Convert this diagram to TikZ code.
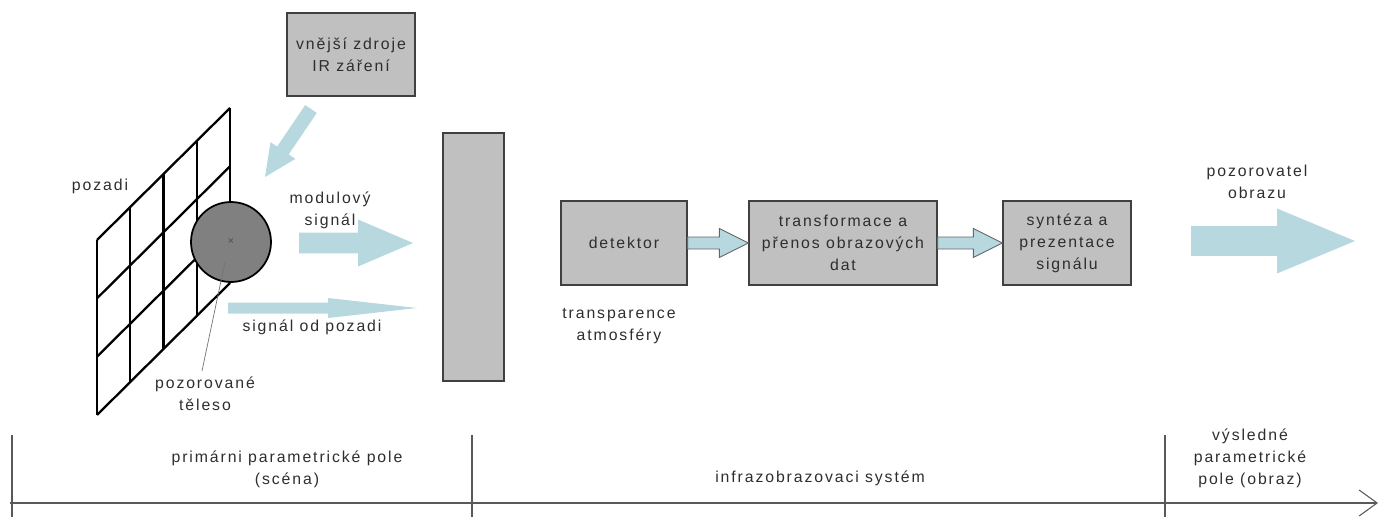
\documentclass[tikz,border=0pt]{standalone}
\usepackage{fontspec}
\setmainfont{Liberation Sans}[LetterSpace=12]
\usetikzlibrary{arrows.meta,calc}

\definecolor{boxgray}{HTML}{C0C0C0}
\definecolor{bodygray}{HTML}{808080}
\definecolor{arrowblue}{HTML}{B8D8E0}
\definecolor{textgray}{HTML}{2E2E2E}

% wide flat arrow: tail, tip, half body, half head, head length
\newcommand{\fatarrow}[6][]{%
  \coordinate (fa hb) at ($(#3)!#6!(#2)$);
  \path[#1] ($(#2)!#4!90:(#3)$) -- ($(fa hb)!#4!-90:(#2)$)
    -- ($(fa hb)!#5!-90:(#2)$) -- (#3) -- ($(fa hb)!#5!90:(#2)$)
    -- ($(fa hb)!#4!90:(#2)$) -- ($(#2)!#4!-90:(#3)$) -- cycle;}

\begin{document}
\begin{tikzpicture}[x=0.02cm, y=-0.02cm,
  every node/.style={font=\fontsize{9}{12.5}\selectfont, text=textgray, align=center},
  box/.style={draw=black!75, fill=boxgray, line width=0.8pt, inner sep=0pt},
  flow/.style={fill=arrowblue},
  flowline/.style={fill=arrowblue, draw=black!60, line width=0.5pt},
  axis/.style={draw=black!65, line width=0.6pt}]
\useasboundingbox (0,0) rectangle (1379,517);

% the scene
\foreach \i in {0,...,4}
  \draw[line width=1.3pt] (97+33.25*\i, 240-33*\i) -- (97+33.25*\i, 415-33*\i);
\foreach \j in {0,...,3}
  \draw[line width=1.3pt] (97, 240+58.33*\j) -- (230, 108+58.33*\j);

\node[circle, draw=black, line width=1pt, fill=bodygray, minimum size=1.6cm,
  inner sep=0pt] (teleso) at (231,242) {};
\node[font=\fontsize{6}{6}\selectfont, text=black!70] at (teleso) {×};
\coordinate (teleso pin) at (225,262);

\node (pozadi) at (100,186) {pozadi};
\node (teleso label) at (205,394) {pozorované\\těleso};
\draw[black!55, line width=0.4pt] (teleso pin) -- ($(teleso label.north)+(-3,0)$);

\node[box, minimum width=2.56cm, minimum height=1.66cm] (zdroje) at (351,54.5)
  {vnější zdroje\\IR záření};

\coordinate (ir tail) at (311,109);
\coordinate (ir tip) at (265,177);
\fatarrow[flow]{ir tail}{ir tip}{0.14cm}{0.3cm}{0.64cm}

\node (mod label) at (330,210) {modulový\\signál};
\coordinate (mod tail) at (299,243);
\coordinate (mod tip) at (413,243);
\fatarrow[flow]{mod tail}{mod tip}{0.21cm}{0.47cm}{1.1cm}

\node (bg label) at (312,327) {signál od pozadi};
\coordinate (bg tail) at (228,308);
\coordinate (bg tip) at (417,308);
\fatarrow[flow]{bg tail}{bg tip}{0.11cm}{0.2cm}{1.78cm}

% the imaging system
\node[box, minimum width=1.22cm, minimum height=4.96cm] (atmosfera) at (473.5,257) {};
\node (atmosfera label) at (619,326) {transparence\\atmosféry};

\node[box, minimum width=2.52cm, minimum height=1.68cm] (detektor) at (624,243) {detektor};
\node[box, minimum width=3.76cm, minimum height=1.68cm] (prenos) at (843,243)
  {transformace a\\přenos obrazových\\dat};
\node[box, minimum width=2.56cm, minimum height=1.68cm] (synteza) at (1067,243)
  {syntéza a\\prezentace\\signálu};

\fatarrow[flowline]{detektor.east}{prenos.west}{0.12cm}{0.29cm}{0.58cm}
\fatarrow[flowline]{prenos.east}{synteza.west}{0.12cm}{0.29cm}{0.58cm}

% the observer
\node (pozorovatel) at (1257,182) {pozorovatel\\obrazu};
\coordinate (obs tail) at (1191,241);
\coordinate (obs tip) at (1355,241);
\fatarrow[flow]{obs tail}{obs tip}{0.3cm}{0.65cm}{1.56cm}

% axis at the bottom
\coordinate (axis start) at (10,503);
\coordinate (axis end) at (1378,503);
\draw[axis, -{Straight Barb[length=0.36cm,width=0.52cm]}] (axis start) -- (axis end);
\foreach \x in {12,472,1165}
  \draw[axis] (\x,435) -- (\x,517);

\node (scena) at (287,469) {primárni parametrické pole\\(scéna)};
\node (system) at (820,478) {infrazobrazovaci systém};
\node (obraz) at (1250,458) {výsledné\\parametrické\\pole (obraz)};
\end{tikzpicture}
\end{document}
